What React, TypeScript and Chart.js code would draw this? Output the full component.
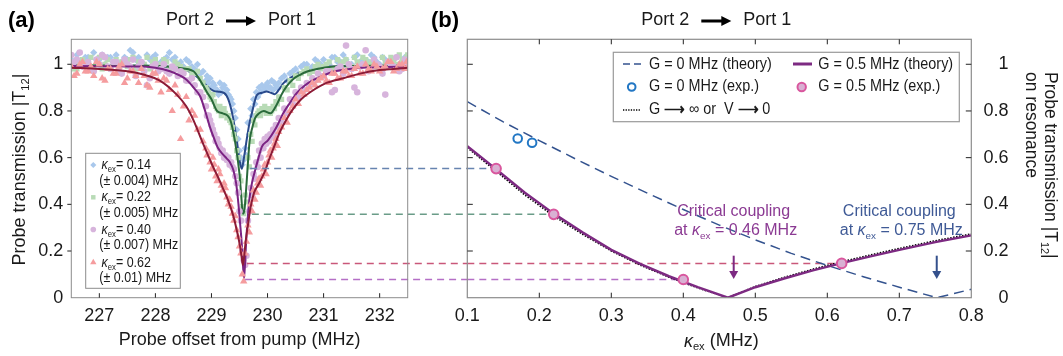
import React, { useEffect, useRef } from "react";
import { Chart, registerables } from "chart.js";

Chart.register(...registerables);

const FONT = '"Liberation Sans", Arial, Helvetica, sans-serif';
const INK = "#1a1a1a";

// ---------------- axes ----------------
const aXMin = 226.5;
const aXMax = 232.5;
const aXTicks = [227, 228, 229, 230, 231, 232];
const aXTickLabels = ["227", "228", "229", "230", "231", "232"];
const bXMin = 0.1;
const bXMax = 0.8;
const bXTicks = [0.1, 0.2, 0.3, 0.4, 0.5, 0.6, 0.7, 0.8];
const bXTickLabels = ["0.1", "0.2", "0.3", "0.4", "0.5", "0.6", "0.7", "0.8"];
const yMin = 0;
const yMax = 1.107;
const yTicks = [0, 0.2, 0.4, 0.6, 0.8, 1];
const yTickLabels = ["0", "0.2", "0.4", "0.6", "0.8", "1"];

// ---------------- panel (a): measured scans ----------------
const scanX = [
  226.5, 226.6, 226.7, 226.8, 226.9, 227.0, 227.1, 227.2, 227.3, 227.4, 227.5, 227.6, 227.7, 227.8, 227.9, 228.0, 228.1, 228.2, 228.3, 228.4, 228.5, 228.6, 228.7, 228.8, 228.9,
  228.95, 229.0, 229.05, 229.1, 229.15, 229.2, 229.25, 229.3, 229.35, 229.4, 229.45, 229.5, 229.55, 229.6, 229.65, 229.7, 229.75, 229.8, 229.85, 229.9, 229.95, 230.0, 230.05, 230.1, 230.15,
  230.2, 230.3, 230.4, 230.5, 230.6, 230.7, 230.8, 230.9, 231.0, 231.1, 231.2, 231.3, 231.4, 231.5, 231.6, 231.7, 231.8, 231.9, 232.0, 232.1, 232.2, 232.3, 232.4, 232.5,
];
const scanX2 = [
  226.55, 226.65, 226.75, 226.85, 226.95, 227.05, 227.15, 227.25, 227.35, 227.45, 227.55, 227.65, 227.75, 227.85, 227.95, 228.05, 228.15, 228.25, 228.35, 228.45, 228.55, 228.65, 228.75, 228.85, 228.92,
  228.975, 229.025, 229.075, 229.125, 229.175, 229.225, 229.275, 229.325, 229.375, 229.425, 229.475, 229.525, 229.575, 229.625, 229.675, 229.725, 229.775, 229.825, 229.875, 229.925, 229.975, 230.025, 230.075, 230.125, 230.175,
  230.25, 230.35, 230.45, 230.55, 230.65, 230.75, 230.85, 230.95, 231.05, 231.15, 231.25, 231.35, 231.45, 231.55, 231.65, 231.75, 231.85, 231.95, 232.05, 232.15, 232.25, 232.35, 232.45, 232.48,
];

const blueScanA = [
  1.02, 1.04, 1.01, 1.03, 1.05, 1.02, 1.0, 1.03, 1.04, 1.01, 1.02, 1.05, 1.03, 1.0, 1.02, 1.04, 1.01, 1.03, 1.02, 1.0, 0.99, 1.01, 0.98, 0.96, 0.93,
  0.92, 0.9, 0.91, 0.89, 0.92, 0.9, 0.88, 0.87, 0.85, 0.8, 0.72, 0.63, 0.57, 0.64, 0.75, 0.81, 0.85, 0.88, 0.9, 0.91, 0.89, 0.92, 0.9, 0.89, 0.91,
  0.92, 0.95, 0.96, 0.98, 0.99, 1.0, 0.99, 1.01, 1.02, 1.0, 1.03, 1.01, 1.02, 1.0, 1.04, 1.02, 1.01, 1.03, 1.0, 1.02, 1.01, 1.03, 1.0, 1.02,
];
const blueScanB = [
  1.0, 1.01, 1.03, 0.99, 1.02, 1.04, 1.03, 1.01, 0.99, 1.03, 1.06, 1.02, 1.01, 1.04, 1.03, 1.0, 1.02, 1.05, 1.03, 1.01, 1.02, 0.99, 1.0, 0.97, 0.95,
  0.94, 0.92, 0.89, 0.87, 0.88, 0.91, 0.89, 0.86, 0.83, 0.77, 0.68, 0.6, 0.59, 0.61, 0.7, 0.78, 0.83, 0.86, 0.88, 0.89, 0.91, 0.9, 0.93, 0.92, 0.9,
  0.94, 0.93, 0.97, 0.96, 1.0, 0.98, 1.02, 1.0, 0.99, 1.03, 1.01, 1.04, 1.0, 1.03, 1.01, 1.0, 1.04, 1.01, 1.03, 0.99, 1.02, 1.0, 1.03, 1.01,
];
const greenScanA = [
  1.0, 0.98, 1.02, 1.01, 0.99, 1.03, 1.0, 0.98, 1.02, 1.01, 0.99, 1.03, 1.01, 1.0, 0.98, 1.02, 1.0, 1.01, 0.99, 1.0, 0.97, 0.98, 0.96, 0.94, 0.9,
  0.88, 0.85, 0.84, 0.81, 0.82, 0.8, 0.79, 0.78, 0.75, 0.7, 0.63, 0.52, 0.39, 0.44, 0.6, 0.7, 0.76, 0.78, 0.8, 0.81, 0.82, 0.8, 0.79, 0.82, 0.84,
  0.86, 0.9, 0.93, 0.95, 0.96, 0.98, 0.97, 1.0, 0.99, 1.01, 0.98, 1.0, 1.02, 0.99, 1.01, 1.03, 1.0, 1.02, 0.99, 1.01, 1.03, 1.0, 1.02, 1.04,
];
const greenScanB = [
  0.98, 1.01, 0.99, 1.03, 1.0, 0.98, 1.02, 1.01, 0.99, 1.0, 1.02, 0.98, 1.0, 1.03, 1.01, 0.99, 1.02, 0.98, 1.01, 0.99, 0.98, 0.96, 0.97, 0.92, 0.89,
  0.86, 0.87, 0.82, 0.8, 0.78, 0.81, 0.77, 0.76, 0.73, 0.68, 0.6, 0.5, 0.36, 0.41, 0.56, 0.67, 0.74, 0.79, 0.78, 0.8, 0.79, 0.81, 0.8, 0.81, 0.83,
  0.85, 0.89, 0.91, 0.94, 0.97, 0.96, 0.99, 0.98, 1.0, 0.98, 1.02, 1.01, 0.99, 1.03, 1.0, 1.02, 1.01, 0.99, 1.03, 1.0, 1.02, 1.04, 1.01, 1.03,
];
const purpleScanA = [
  1.04, 1.02, 0.99, 1.01, 0.97, 1.0, 1.03, 0.98, 1.01, 0.96, 1.0, 1.02, 0.99, 0.97, 0.94, 1.0, 0.98, 0.97, 0.99, 0.95, 0.96, 0.93, 0.91, 0.88, 0.82,
  0.78, 0.74, 0.7, 0.68, 0.64, 0.63, 0.61, 0.6, 0.58, 0.55, 0.49, 0.37, 0.2, 0.14, 0.33, 0.47, 0.53, 0.58, 0.63, 0.66, 0.68, 0.69, 0.7, 0.72, 0.74,
  0.77, 0.81, 0.85, 0.88, 0.9, 0.92, 0.94, 0.96, 0.95, 0.97, 0.89, 0.99, 1.08, 0.98, 0.88, 1.0, 0.97, 1.02, 0.99, 0.87, 1.0, 1.03, 0.98, 1.01,
];
const purpleScanB = [
  1.01, 1.05, 1.0, 0.98, 1.02, 1.04, 0.99, 1.01, 0.97, 1.02, 0.99, 0.95, 1.01, 0.91, 0.99, 0.97, 1.0, 0.96, 0.98, 0.97, 0.93, 0.94, 0.88, 0.86, 0.78,
  0.76, 0.72, 0.67, 0.66, 0.62, 0.6, 0.59, 0.57, 0.56, 0.52, 0.45, 0.33, 0.16, 0.18, 0.37, 0.44, 0.51, 0.56, 0.6, 0.64, 0.66, 0.67, 0.69, 0.7, 0.73,
  0.75, 0.79, 0.83, 0.86, 0.89, 0.91, 0.93, 0.95, 0.97, 0.88, 0.98, 0.96, 1.0, 0.9, 0.99, 1.06, 0.98, 1.0, 0.96, 1.01, 0.99, 0.97, 1.02, 1.0,
];
const redScanA = [
  0.99, 0.96, 1.01, 0.97, 0.95, 1.0, 0.93, 0.98, 0.96, 1.0, 0.94, 0.97, 0.92, 0.95, 0.9, 0.96, 0.88, 0.93, 0.8, 0.87, 0.82, 0.76, 0.78, 0.72, 0.64,
  0.62, 0.55, 0.57, 0.5, 0.53, 0.46, 0.47, 0.4, 0.39, 0.33, 0.29, 0.22, 0.1, 0.19, 0.31, 0.4, 0.46, 0.45, 0.51, 0.52, 0.57, 0.58, 0.63, 0.64, 0.68,
  0.71, 0.77, 0.8, 0.85, 0.88, 0.89, 0.92, 0.93, 0.95, 0.92, 0.96, 0.94, 0.97, 0.95, 0.99, 0.96, 0.98, 1.0, 0.97, 0.99, 1.01, 0.98, 1.0, 0.99,
];
const redScanB = [
  0.95, 1.0, 0.97, 0.99, 1.01, 0.94, 0.98, 0.96, 0.99, 0.92, 0.97, 0.95, 0.98, 0.91, 0.96, 0.93, 0.94, 0.89, 0.91, 0.68, 0.86, 0.8, 0.72, 0.67, 0.61,
  0.58, 0.6, 0.52, 0.55, 0.48, 0.49, 0.43, 0.42, 0.36, 0.35, 0.26, 0.19, 0.07, 0.24, 0.28, 0.37, 0.42, 0.49, 0.48, 0.55, 0.53, 0.61, 0.6, 0.66, 0.65,
  0.73, 0.75, 0.82, 0.83, 0.87, 0.9, 0.91, 0.94, 0.93, 0.96, 0.94, 0.97, 0.95, 0.98, 0.96, 1.0, 0.97, 0.99, 0.98, 1.01, 0.97, 1.0, 0.98, 1.01,
];

// ---------------- panel (a): fitted curves ----------------
const blueFitX = [226.5, 227.0, 227.5, 228.0, 228.3, 228.55, 228.8, 228.95, 229.05, 229.15, 229.27, 229.36, 229.45, 229.5, 229.54, 229.58, 229.63, 229.68, 229.72, 229.77, 229.81, 229.9, 229.98, 230.06, 230.13, 230.2, 230.28, 230.4, 230.52, 230.67, 230.82, 231.05, 231.4, 231.8, 232.2, 232.5];
const blueFitY = [0.995, 0.995, 0.994, 0.992, 0.988, 0.975, 0.935, 0.9, 0.885, 0.882, 0.865, 0.8, 0.677, 0.59, 0.552, 0.6, 0.68, 0.75, 0.79, 0.84, 0.868, 0.878, 0.883, 0.878, 0.872, 0.89, 0.918, 0.94, 0.958, 0.97, 0.978, 0.988, 0.992, 0.994, 0.995, 0.995];
const greenFitX = [226.5, 227.0, 227.5, 228.08, 228.4, 228.68, 228.8, 228.92, 229.0, 229.1, 229.2, 229.33, 229.42, 229.5, 229.53, 229.56, 229.59, 229.62, 229.68, 229.73, 229.78, 229.85, 229.93, 230.05, 230.17, 230.25, 230.34, 230.45, 230.58, 230.72, 230.88, 231.17, 231.6, 232.0, 232.5];
const greenFitY = [0.995, 0.995, 0.995, 0.993, 0.985, 0.97, 0.93, 0.88, 0.85, 0.8, 0.79, 0.765, 0.67, 0.53, 0.44, 0.36, 0.38, 0.47, 0.67, 0.73, 0.77, 0.79, 0.8, 0.79, 0.83, 0.87, 0.905, 0.935, 0.955, 0.97, 0.98, 0.99, 0.993, 0.994, 0.995];
const purpleFitX = [226.5, 227.0, 227.5, 227.78, 228.0, 228.26, 228.45, 228.56, 228.7, 228.8, 228.9, 228.97, 229.05, 229.12, 229.2, 229.27, 229.33, 229.39, 229.44, 229.48, 229.51, 229.54, 229.56, 229.58, 229.6, 229.62, 229.65, 229.68, 229.73, 229.78, 229.84, 229.9, 230.01, 230.13, 230.2, 230.28, 230.4, 230.52, 230.67, 230.82, 231.0, 231.17, 231.4, 231.65, 232.0, 232.5];
const purpleFitY = [0.993, 0.992, 0.991, 0.99, 0.985, 0.97, 0.95, 0.933, 0.895, 0.862, 0.79, 0.733, 0.68, 0.64, 0.615, 0.597, 0.58, 0.547, 0.49, 0.404, 0.32, 0.233, 0.15, 0.083, 0.15, 0.247, 0.35, 0.43, 0.5, 0.547, 0.6, 0.647, 0.675, 0.718, 0.75, 0.79, 0.835, 0.876, 0.91, 0.933, 0.952, 0.968, 0.978, 0.985, 0.988, 0.99];
const redFitX = [226.5, 227.0, 227.5, 227.8, 228.08, 228.38, 228.55, 228.68, 228.85, 229.03, 229.12, 229.21, 229.3, 229.39, 229.45, 229.51, 229.54, 229.56, 229.58, 229.61, 229.65, 229.7, 229.76, 229.85, 229.95, 230.04, 230.13, 230.22, 230.34, 230.46, 230.6, 230.76, 231.05, 231.35, 231.65, 232.0, 232.24, 232.5];
const redFitY = [0.985, 0.98, 0.97, 0.955, 0.93, 0.87, 0.82, 0.76, 0.66, 0.56, 0.515, 0.465, 0.415, 0.35, 0.29, 0.22, 0.17, 0.14, 0.17, 0.24, 0.31, 0.39, 0.45, 0.49, 0.54, 0.6, 0.655, 0.71, 0.765, 0.81, 0.85, 0.88, 0.92, 0.94, 0.96, 0.975, 0.98, 0.985];

const kappaLabels = ["0.14", "0.22", "0.40", "0.62"];
const kappaErrors = ["(± 0.004) MHz", "(± 0.005) MHz", "(± 0.007) MHz", "(± 0.01) MHz"];

// ---------------- panel (b) ----------------
const g0TheoryX = [0.1, 0.15, 0.2, 0.25, 0.3, 0.35, 0.4, 0.45, 0.5, 0.55, 0.6, 0.65, 0.7, 0.752, 0.8];
const g0TheoryY = [0.84, 0.753, 0.673, 0.595, 0.52, 0.448, 0.378, 0.311, 0.248, 0.19, 0.138, 0.09, 0.045, 0.0, 0.036];
const g05TheoryX = [0.1, 0.14, 0.18, 0.22, 0.26, 0.3, 0.34, 0.38, 0.42, 0.462, 0.5, 0.54, 0.58, 0.62, 0.66, 0.7, 0.75, 0.8];
const g05TheoryY = [0.649, 0.55, 0.45, 0.36, 0.28, 0.205, 0.145, 0.092, 0.045, 0.0, 0.045, 0.082, 0.117, 0.148, 0.177, 0.205, 0.238, 0.267];
const gInfY = [0.643, 0.542, 0.44, 0.35, 0.272, 0.2, 0.14, 0.088, 0.042, 0.0, 0.048, 0.087, 0.122, 0.154, 0.183, 0.211, 0.244, 0.273];
const g0ExpX = [0.17, 0.19];
const g0ExpY = [0.682, 0.664];
const g05ExpX = [0.14, 0.22, 0.4, 0.62];
const g05ExpY = [0.553, 0.357, 0.078, 0.147];

// dashed guides from each dip (panel a) to its point (panel b)
const guideStartX = [229.69, 229.72, 229.6, 229.63];
const guideEndX = 233.56;

const critKappa = [0.47, 0.752];
const critTextKappa = [0.47, 0.7];
const critValue = ["0.46", "0.75"];
const critArrowTop = 0.18;
const critArrowTip = 0.08;
const critLine1Y = 0.367;
const critLine2Y = 0.287;

// ---------------- styles ----------------
const scanColors = ["#a9c8ec", "#b8dbb6", "#d7b4dc", "#f59c9e"];
const scanStyles = ["rectRot", "rect", "circle", "triangle"];
const scanRadius = [3.6, 3.7, 3.3, 4.3];
const fitColors = ["#2a4a8b", "#2a6a3b", "#7b2383", "#8c1b36"];
const guideColors = ["#6784b0", "#6a9c88", "#b56fc6", "#c9577a"];
const C_G0 = "#34538f";
const C_G05 = "#7d2a82";
const C_OPEN = "#2277c4";
const C_PINK_FILL = "#d9b0d3";
const C_PINK_EDGE = "#d9579e";
const C_CRIT_TEXT = ["#8b3a93", "#3f5a96"];
const C_CRIT_ARROW = ["#7d2a82", "#34508c"];
const FRAME = "#8c8c8c";

type Seg = { t: string; i?: boolean; s?: boolean; b?: boolean };

function segFont(sg: Seg, size: number) {
  const fs = sg.s ? size * 0.62 : size;
  return `${sg.i ? "italic " : ""}${sg.b ? "bold " : ""}${fs}px ${FONT}`;
}
function richWidth(ctx: CanvasRenderingContext2D, segs: Seg[], size: number) {
  let w = 0;
  for (const sg of segs) {
    ctx.font = segFont(sg, size);
    w += ctx.measureText(sg.t).width;
  }
  return w;
}
function drawRich(ctx: CanvasRenderingContext2D, segs: Seg[], x: number, y: number, size: number, align: string, color: string, sx = 1) {
  ctx.save();
  const w = richWidth(ctx, segs, size) * sx;
  const x0 = align === "left" ? x : align === "center" ? x - w / 2 : x - w;
  ctx.translate(x0, y);
  ctx.scale(sx, 1);
  ctx.fillStyle = color;
  ctx.textAlign = "left";
  ctx.textBaseline = "middle";
  let cx = 0;
  for (const sg of segs) {
    ctx.font = segFont(sg, size);
    ctx.fillText(sg.t, cx, sg.s ? size * 0.32 : 0);
    cx += ctx.measureText(sg.t).width;
  }
  ctx.restore();
}
function drawRotated(ctx: CanvasRenderingContext2D, segs: Seg[], x: number, y: number, angle: number, size: number, align: string) {
  ctx.save();
  ctx.translate(x, y);
  ctx.rotate(angle);
  drawRich(ctx, segs, 0, 0, size, align, INK);
  ctx.restore();
}
function drawMarker(ctx: CanvasRenderingContext2D, style: string, x: number, y: number, r: number, fill: string | null, stroke?: string, lw?: number) {
  ctx.save();
  ctx.beginPath();
  if (style === "rectRot") {
    ctx.moveTo(x, y - r); ctx.lineTo(x + r, y); ctx.lineTo(x, y + r); ctx.lineTo(x - r, y); ctx.closePath();
  } else if (style === "rect") {
    const s = r * Math.SQRT1_2;
    ctx.rect(x - s, y - s, 2 * s, 2 * s);
  } else if (style === "triangle") {
    ctx.moveTo(x, y - r); ctx.lineTo(x + r * 0.866, y + r * 0.5); ctx.lineTo(x - r * 0.866, y + r * 0.5); ctx.closePath();
  } else {
    ctx.arc(x, y, r, 0, Math.PI * 2);
  }
  if (fill) { ctx.fillStyle = fill; ctx.fill(); }
  if (stroke) { ctx.strokeStyle = stroke; ctx.lineWidth = lw || 1; ctx.stroke(); }
  ctx.restore();
}
const portTitle = ["Port 2", "Port 1"];
function drawPortTitle(ctx: CanvasRenderingContext2D, cx: number, cy: number) {
  ctx.save();
  ctx.font = `18px ${FONT}`;
  const w1 = ctx.measureText(portTitle[0]).width;
  const w2 = ctx.measureText(portTitle[1]).width;
  const gap = 12, aw = 30;
  const total = w1 + gap + aw + gap + w2;
  let x = cx - total / 2;
  ctx.fillStyle = INK;
  ctx.textBaseline = "middle";
  ctx.textAlign = "left";
  ctx.fillText(portTitle[0], x, cy);
  x += w1 + gap;
  ctx.strokeStyle = "#000";
  ctx.lineWidth = 3;
  ctx.beginPath(); ctx.moveTo(x, cy + 0.5); ctx.lineTo(x + aw - 8, cy + 0.5); ctx.stroke();
  ctx.fillStyle = "#000";
  ctx.beginPath(); ctx.moveTo(x + aw, cy + 0.5); ctx.lineTo(x + aw - 10, cy - 4.5); ctx.lineTo(x + aw - 10, cy + 5.5); ctx.closePath(); ctx.fill();
  x += aw + gap;
  ctx.fillStyle = INK;
  ctx.fillText(portTitle[1], x, cy);
  ctx.restore();
}

const kappaEx = (rest: string): Seg[] => [{ t: "κ", i: true }, { t: "ex", s: true }, { t: rest }];
const transTitle: Seg[] = [{ t: "Probe transmission |T" }, { t: "12", s: true }, { t: "|" }];

function xScale(min: number, max: number, ticks: number[], labels: string[]) {
  return {
    type: "linear", min, max, bounds: "data",
    afterBuildTicks: (s: any) => { s.ticks = ticks.map((v) => ({ value: v })); },
    afterFit: (s: any) => { s.height = 58.3; },
    grid: { display: false, drawTicks: false },
    border: { display: false },
    ticks: { autoSkip: false, maxRotation: 0, minRotation: 0, padding: 7.5, color: INK, font: { family: FONT, size: 18 }, callback: (_v: any, i: number) => labels[i] },
  };
}
function yScale(position: string, width: number, extra: any) {
  return {
    type: "linear", position, min: yMin, max: yMax, bounds: "data",
    afterBuildTicks: (s: any) => { s.ticks = yTicks.map((v) => ({ value: v })); },
    afterFit: (s: any) => { s.width = width; },
    grid: { display: false, drawTicks: false },
    border: { display: false },
    ticks: { autoSkip: false, color: INK, font: { family: FONT, size: 18 }, callback: (_v: any, i: number) => yTickLabels[i], ...extra },
  };
}
const pts = (xs: number[], ys: number[]) => xs.map((x, i) => ({ x, y: ys[i] }));

function panelAPlugin() {
  return {
    id: "panelA",
    afterDatasetsDraw(chart: any) {
      const { ctx, chartArea: ca, scales } = chart;
      ctx.save();
      ctx.strokeStyle = FRAME; ctx.lineWidth = 1;
      ctx.strokeRect(ca.left, ca.top, ca.right - ca.left, ca.bottom - ca.top);
      ctx.strokeStyle = "#222"; ctx.beginPath();
      for (const v of yTicks) {
        if (v === 0) continue;
        const y = scales.y.getPixelForValue(v);
        ctx.moveTo(ca.left - 4, y); ctx.lineTo(ca.left, y);
      }
      for (const v of aXTicks) {
        const x = scales.x.getPixelForValue(v);
        ctx.moveTo(x, ca.bottom); ctx.lineTo(x, ca.bottom - 4.5);
      }
      ctx.stroke();
      ctx.restore();
    },
    afterDraw(chart: any) {
      const { ctx, chartArea: ca } = chart;
      drawRich(ctx, [{ t: "(a)", b: true }], 8, 21, 22, "left", "#000");
      drawPortTitle(ctx, (ca.left + ca.right) / 2 + 1.5, 20.5);
      drawRotated(ctx, transTitle, 20, (ca.top + ca.bottom) / 2 + 1, -Math.PI / 2, 18, "center");
      drawRich(ctx, [{ t: "Probe offset from pump (MHz)" }], (ca.left + ca.right) / 2, 340.5, 18, "center", INK);
      // legend
      ctx.save();
      ctx.fillStyle = "#fff"; ctx.strokeStyle = FRAME; ctx.lineWidth = 1;
      ctx.fillRect(85.7, 153.3, 94.6, 135);
      ctx.strokeRect(85.7, 153.3, 94.6, 135);
      ctx.restore();
      const r1 = [165, 197.3, 229.5, 262.5];
      const r2 = [180.5, 212.5, 245, 277.5];
      for (let i = 0; i < 4; i++) {
        drawMarker(ctx, scanStyles[i], 93.3, r1[i], scanRadius[i] * 0.85, scanColors[i]);
        drawRich(ctx, kappaEx("= " + kappaLabels[i]), 101.5, r1[i], 14.5, "left", INK, 0.86);
        drawRich(ctx, [{ t: kappaErrors[i] }], 99.3, r2[i], 14.5, "left", INK, 0.86);
      }
    },
  };
}

function panelBPlugin() {
  return {
    id: "panelB",
    afterDatasetsDraw(chart: any) {
      const { ctx, chartArea: ca, scales } = chart;
      ctx.save();
      ctx.strokeStyle = FRAME; ctx.lineWidth = 1.2;
      ctx.strokeRect(ca.left, ca.top, ca.right - ca.left, ca.bottom - ca.top);
      ctx.strokeStyle = "#222"; ctx.lineWidth = 1; ctx.beginPath();
      for (const v of yTicks) {
        if (v === 0) continue;
        const y = scales.y.getPixelForValue(v);
        ctx.moveTo(ca.left, y); ctx.lineTo(ca.left + 5.5, y);
        ctx.moveTo(ca.right, y); ctx.lineTo(ca.right - 5.5, y);
      }
      for (const v of bXTicks) {
        if (v === bXMin || v === bXMax) continue;
        const x = scales.x.getPixelForValue(v);
        ctx.moveTo(x, ca.bottom); ctx.lineTo(x, ca.bottom - 5);
        ctx.moveTo(x, ca.top); ctx.lineTo(x, ca.top + 5);
      }
      ctx.stroke();
      ctx.restore();
    },
    afterDraw(chart: any) {
      const { ctx, chartArea: ca, scales } = chart;
      drawRich(ctx, [{ t: "(b)", b: true }], 431, 21, 22, "left", "#000");
      drawPortTitle(ctx, (ca.left + ca.right) / 2 - 3, 20.5);
      drawRotated(ctx, transTitle, 1050, 72, Math.PI / 2, 17.5, "left");
      drawRotated(ctx, [{ t: "on resonance" }], 1031, 72, Math.PI / 2, 17.5, "left");
      drawRich(ctx, kappaEx(" (MHz)"), (ca.left + ca.right) / 2 + 2, 341.5, 18, "center", INK);

      for (let i = 0; i < 2; i++) {
        const tx = scales.x.getPixelForValue(critTextKappa[i]);
        drawRich(ctx, [{ t: "Critical coupling" }], tx, scales.y.getPixelForValue(critLine1Y), 16, "center", C_CRIT_TEXT[i]);
        drawRich(ctx, [{ t: "at " }, { t: "κ", i: true }, { t: "ex", s: true }, { t: " = " + critValue[i] + " MHz" }], tx + 2, scales.y.getPixelForValue(critLine2Y), 16, "center", C_CRIT_TEXT[i]);
        const ax = scales.x.getPixelForValue(critKappa[i]);
        const y0 = scales.y.getPixelForValue(critArrowTop);
        const y1 = scales.y.getPixelForValue(critArrowTip);
        ctx.save();
        ctx.strokeStyle = C_CRIT_ARROW[i]; ctx.fillStyle = C_CRIT_ARROW[i]; ctx.lineWidth = 2;
        ctx.beginPath(); ctx.moveTo(ax, y0); ctx.lineTo(ax, y1 - 6); ctx.stroke();
        ctx.beginPath(); ctx.moveTo(ax, y1); ctx.lineTo(ax - 4.5, y1 - 8); ctx.lineTo(ax + 4.5, y1 - 8); ctx.closePath(); ctx.fill();
        ctx.restore();
      }

      // legend
      ctx.save();
      ctx.fillStyle = "#fff"; ctx.strokeStyle = "#999"; ctx.lineWidth = 1.2;
      ctx.fillRect(613.3, 52.3, 346, 69.4);
      ctx.strokeRect(613.3, 52.3, 346, 69.4);
      ctx.strokeStyle = C_G0; ctx.lineWidth = 1.5; ctx.setLineDash([7, 4]);
      ctx.beginPath(); ctx.moveTo(623, 64); ctx.lineTo(642, 64); ctx.stroke();
      ctx.setLineDash([]);
      ctx.strokeStyle = C_G05; ctx.lineWidth = 3;
      ctx.beginPath(); ctx.moveTo(793, 64); ctx.lineTo(812, 64); ctx.stroke();
      ctx.strokeStyle = "#000"; ctx.lineWidth = 1.4; ctx.setLineDash([1.3, 1.3]);
      ctx.beginPath(); ctx.moveTo(623, 110); ctx.lineTo(641, 110); ctx.stroke();
      ctx.setLineDash([]);
      ctx.restore();
      drawMarker(ctx, "circle", 631.7, 87, 3.8, null, C_OPEN, 2);
      drawMarker(ctx, "circle", 801.7, 87, 4.2, C_PINK_FILL, C_PINK_EDGE, 2);
      drawRich(ctx, [{ t: "G = 0 MHz (theory)" }], 649, 64.5, 16, "left", INK, 0.9);
      drawRich(ctx, [{ t: "G = 0.5 MHz (theory)" }], 818.3, 64.5, 16, "left", INK, 0.9);
      drawRich(ctx, [{ t: "G = 0 MHz (exp.)" }], 649, 87, 16, "left", INK, 0.9);
      drawRich(ctx, [{ t: "G = 0.5 MHz (exp.)" }], 818.3, 87, 16, "left", INK, 0.9);
      drawRich(ctx, [{ t: "G " }, { t: "⟶", b: true }, { t: " ∞ or  V " }, { t: "⟶", b: true }, { t: " 0" }], 649, 110, 16, "left", INK, 0.9);
    },
  };
}

function buildA(canvas: HTMLCanvasElement) {
  const layers: any[] = [];
  const scans = [
    [blueScanA, blueScanB], [greenScanA, greenScanB], [purpleScanA, purpleScanB], [redScanA, redScanB],
  ];
  const fits = [[blueFitX, blueFitY], [greenFitX, greenFitY], [purpleFitX, purpleFitY], [redFitX, redFitY]];
  for (let i = 0; i < 4; i++) {
    for (let k = 0; k < 2; k++) {
      layers.push({
        data: pts(k === 0 ? scanX : scanX2, scans[i][k]),
        pointStyle: scanStyles[i], pointRadius: scanRadius[i], backgroundColor: scanColors[i],
        pointBackgroundColor: scanColors[i], pointBorderWidth: 0, borderWidth: 0, showLine: false,
      });
    }
    layers.push({
      data: pts(fits[i][0], fits[i][1]), showLine: true, pointRadius: 0, borderColor: fitColors[i],
      borderWidth: 2, cubicInterpolationMode: "monotone", fill: false,
    });
  }
  for (let i = 0; i < 4; i++) {
    layers.push({
      data: [{ x: guideStartX[i], y: g05ExpY[i] }, { x: guideEndX, y: g05ExpY[i] }],
      showLine: true, pointRadius: 0, borderColor: guideColors[i], borderWidth: 1.5, borderDash: [7, 5], clip: false,
    });
  }
  layers.forEach((d, idx) => { d.order = layers.length - idx; });
  return new Chart(canvas, {
    type: "scatter",
    data: { datasets: layers },
    options: {
      animation: false, responsive: false, maintainAspectRatio: false, devicePixelRatio: 1, events: [],
      layout: { padding: { left: 0, top: 39.3, right: 655.3, bottom: 0 } },
      plugins: { legend: { display: false }, tooltip: { enabled: false } },
      scales: {
        x: xScale(aXMin, aXMax, aXTicks, aXTickLabels),
        y: yScale("left", 71.3, { padding: 8 }),
      },
    } as any,
    plugins: [panelAPlugin()],
  } as any);
}

function buildB(canvas: HTMLCanvasElement) {
  const layers: any[] = [];
  for (let i = 0; i < 4; i++) {
    layers.push({
      data: [{ x: bXMin, y: g05ExpY[i] }, { x: g05ExpX[i], y: g05ExpY[i] }],
      showLine: true, pointRadius: 0, borderColor: guideColors[i], borderWidth: 1.5, borderDash: [7, 5],
    });
  }
  layers.push({ data: pts(g0TheoryX, g0TheoryY), showLine: true, pointRadius: 0, borderColor: C_G0, borderWidth: 1.5, borderDash: [10, 6] });
  layers.push({ data: pts(g05TheoryX, gInfY), showLine: true, pointRadius: 0, borderColor: "#000", borderWidth: 1.6, borderDash: [1.5, 1.5] });
  layers.push({ data: pts(g05TheoryX, g05TheoryY), showLine: true, pointRadius: 0, borderColor: C_G05, borderWidth: 2.5 });
  layers.push({ data: pts(g0ExpX, g0ExpY), showLine: false, pointRadius: 4.3, pointStyle: "circle", pointBackgroundColor: "rgba(0,0,0,0)", pointBorderColor: C_OPEN, pointBorderWidth: 2 });
  layers.push({ data: pts(g05ExpX, g05ExpY), showLine: false, pointRadius: 4.8, pointStyle: "circle", pointBackgroundColor: C_PINK_FILL, pointBorderColor: C_PINK_EDGE, pointBorderWidth: 2 });
  layers.forEach((d, idx) => { d.order = layers.length - idx; });
  return new Chart(canvas, {
    type: "scatter",
    data: { datasets: layers },
    options: {
      animation: false, responsive: false, maintainAspectRatio: false, devicePixelRatio: 1, events: [],
      layout: { padding: { left: 467.3, top: 39.3, right: 54.5, bottom: 0 } },
      plugins: { legend: { display: false }, tooltip: { enabled: false } },
      scales: {
        x: xScale(bXMin, bXMax, bXTicks, bXTickLabels),
        y: yScale("right", 37.2, { padding: 6, crossAlign: "far" }),
      },
    } as any,
    plugins: [panelBPlugin()],
  } as any);
}

export default function App() {
  const refA = useRef<HTMLCanvasElement>(null);
  const refB = useRef<HTMLCanvasElement>(null);
  useEffect(() => {
    const a = buildA(refA.current!);
    const b = buildB(refB.current!);
    return () => { a.destroy(); b.destroy(); };
  }, []);
  const cs: React.CSSProperties = { position: "absolute", left: 0, top: 0, width: 1063, height: 356 };
  return (
    <div style={{ position: "fixed", left: 0, top: 0, width: 1063, height: 356, background: "#fff" }}>
      <canvas ref={refA} width={1063} height={356} style={cs} />
      <canvas ref={refB} width={1063} height={356} style={cs} />
    </div>
  );
}
